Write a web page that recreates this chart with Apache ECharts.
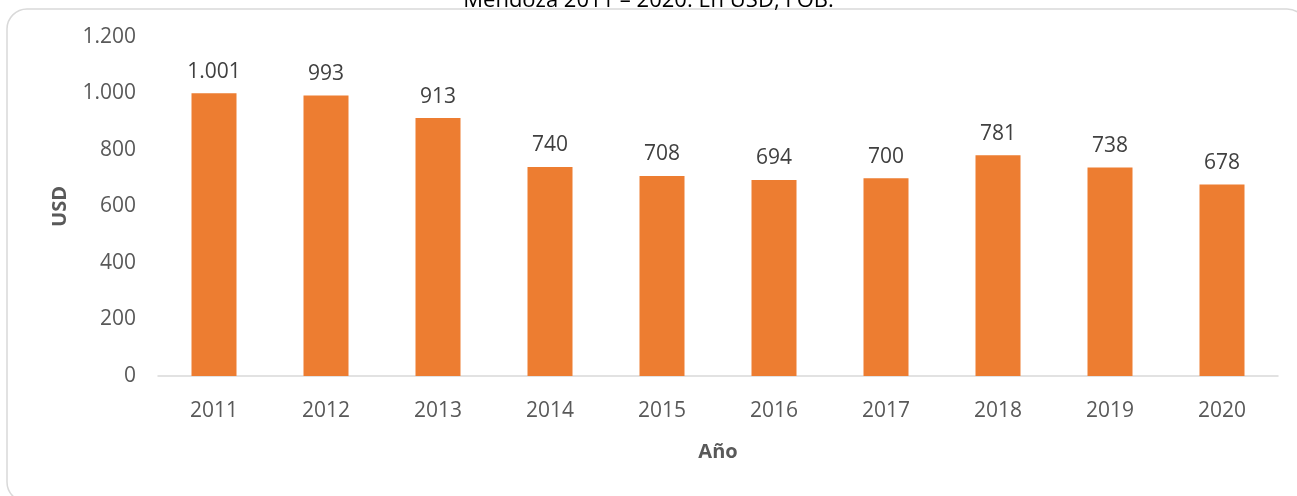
<!DOCTYPE html>
<html>
<head>
<meta charset="utf-8">
<script src="https://cdn.jsdelivr.net/npm/echarts@6/dist/echarts.min.js"></script>
<style>
  html, body { margin: 0; padding: 0; background: #fff; }
  #chart { width: 1297px; height: 496px; }
</style>
</head>
<body>
<div id="chart"></div>
<script>
var years = ['2011', '2012', '2013', '2014', '2015', '2016', '2017', '2018', '2019', '2020'];
var usd = [1001, 993, 913, 740, 708, 694, 700, 781, 738, 678];

function fmt(v) {
    // separador de miles con punto
    return String(v).replace(/\B(?=(\d{3})+(?!\d))/g, '.');
}

var chart = echarts.init(document.getElementById('chart'));
var option = {
    backgroundColor: '#fff',
    textStyle: { fontFamily: 'Open Sans' },
    title: {
        text: 'Mendoza 2011 – 2020. En USD, FOB.',
        left: 'center',
        top: -15,
        textStyle: { fontSize: 22, fontWeight: 'normal', color: '#000', fontFamily: 'Open Sans' }
    },
    graphic: [{
        type: 'rect',
        shape: { x: 7, y: 9, width: 1300, height: 493, r: 20 },
        style: { fill: 'none', stroke: '#d9d9d9', lineWidth: 1.5 },
        z: -1
    }],
    grid: { left: 158, right: 19, top: 37, bottom: 120 },
    xAxis: {
        type: 'category',
        data: years,
        name: 'Año',
        nameLocation: 'middle',
        nameGap: 66,
        nameTextStyle: { fontSize: 20, fontWeight: 'bold', color: '#595959' },
        axisLine: { lineStyle: { color: '#d9d9d9', width: 1.5 } },
        axisTick: { show: false },
        axisLabel: { fontSize: 21, color: '#595959', margin: 25 }
    },
    yAxis: {
        type: 'value',
        min: 0,
        max: 1200,
        interval: 200,
        name: 'USD',
        nameLocation: 'middle',
        nameGap: 88,
        nameRotate: 90,
        nameTextStyle: { fontSize: 20, fontWeight: 'bold', color: '#595959' },
        axisLine: { show: false },
        axisTick: { show: false },
        splitLine: { show: false },
        axisLabel: { fontSize: 21, color: '#595959', margin: 22, formatter: fmt }
    },
    series: [{
        type: 'bar',
        data: usd,
        barWidth: 45,
        itemStyle: { color: '#ed7d31' },
        label: {
            show: true,
            position: 'top',
            distance: 11,
            fontSize: 21,
            color: '#404040',
            formatter: function (p) { return fmt(p.value); }
        }
    }]
};
chart.setOption(option);
</script>
</body>
</html>
